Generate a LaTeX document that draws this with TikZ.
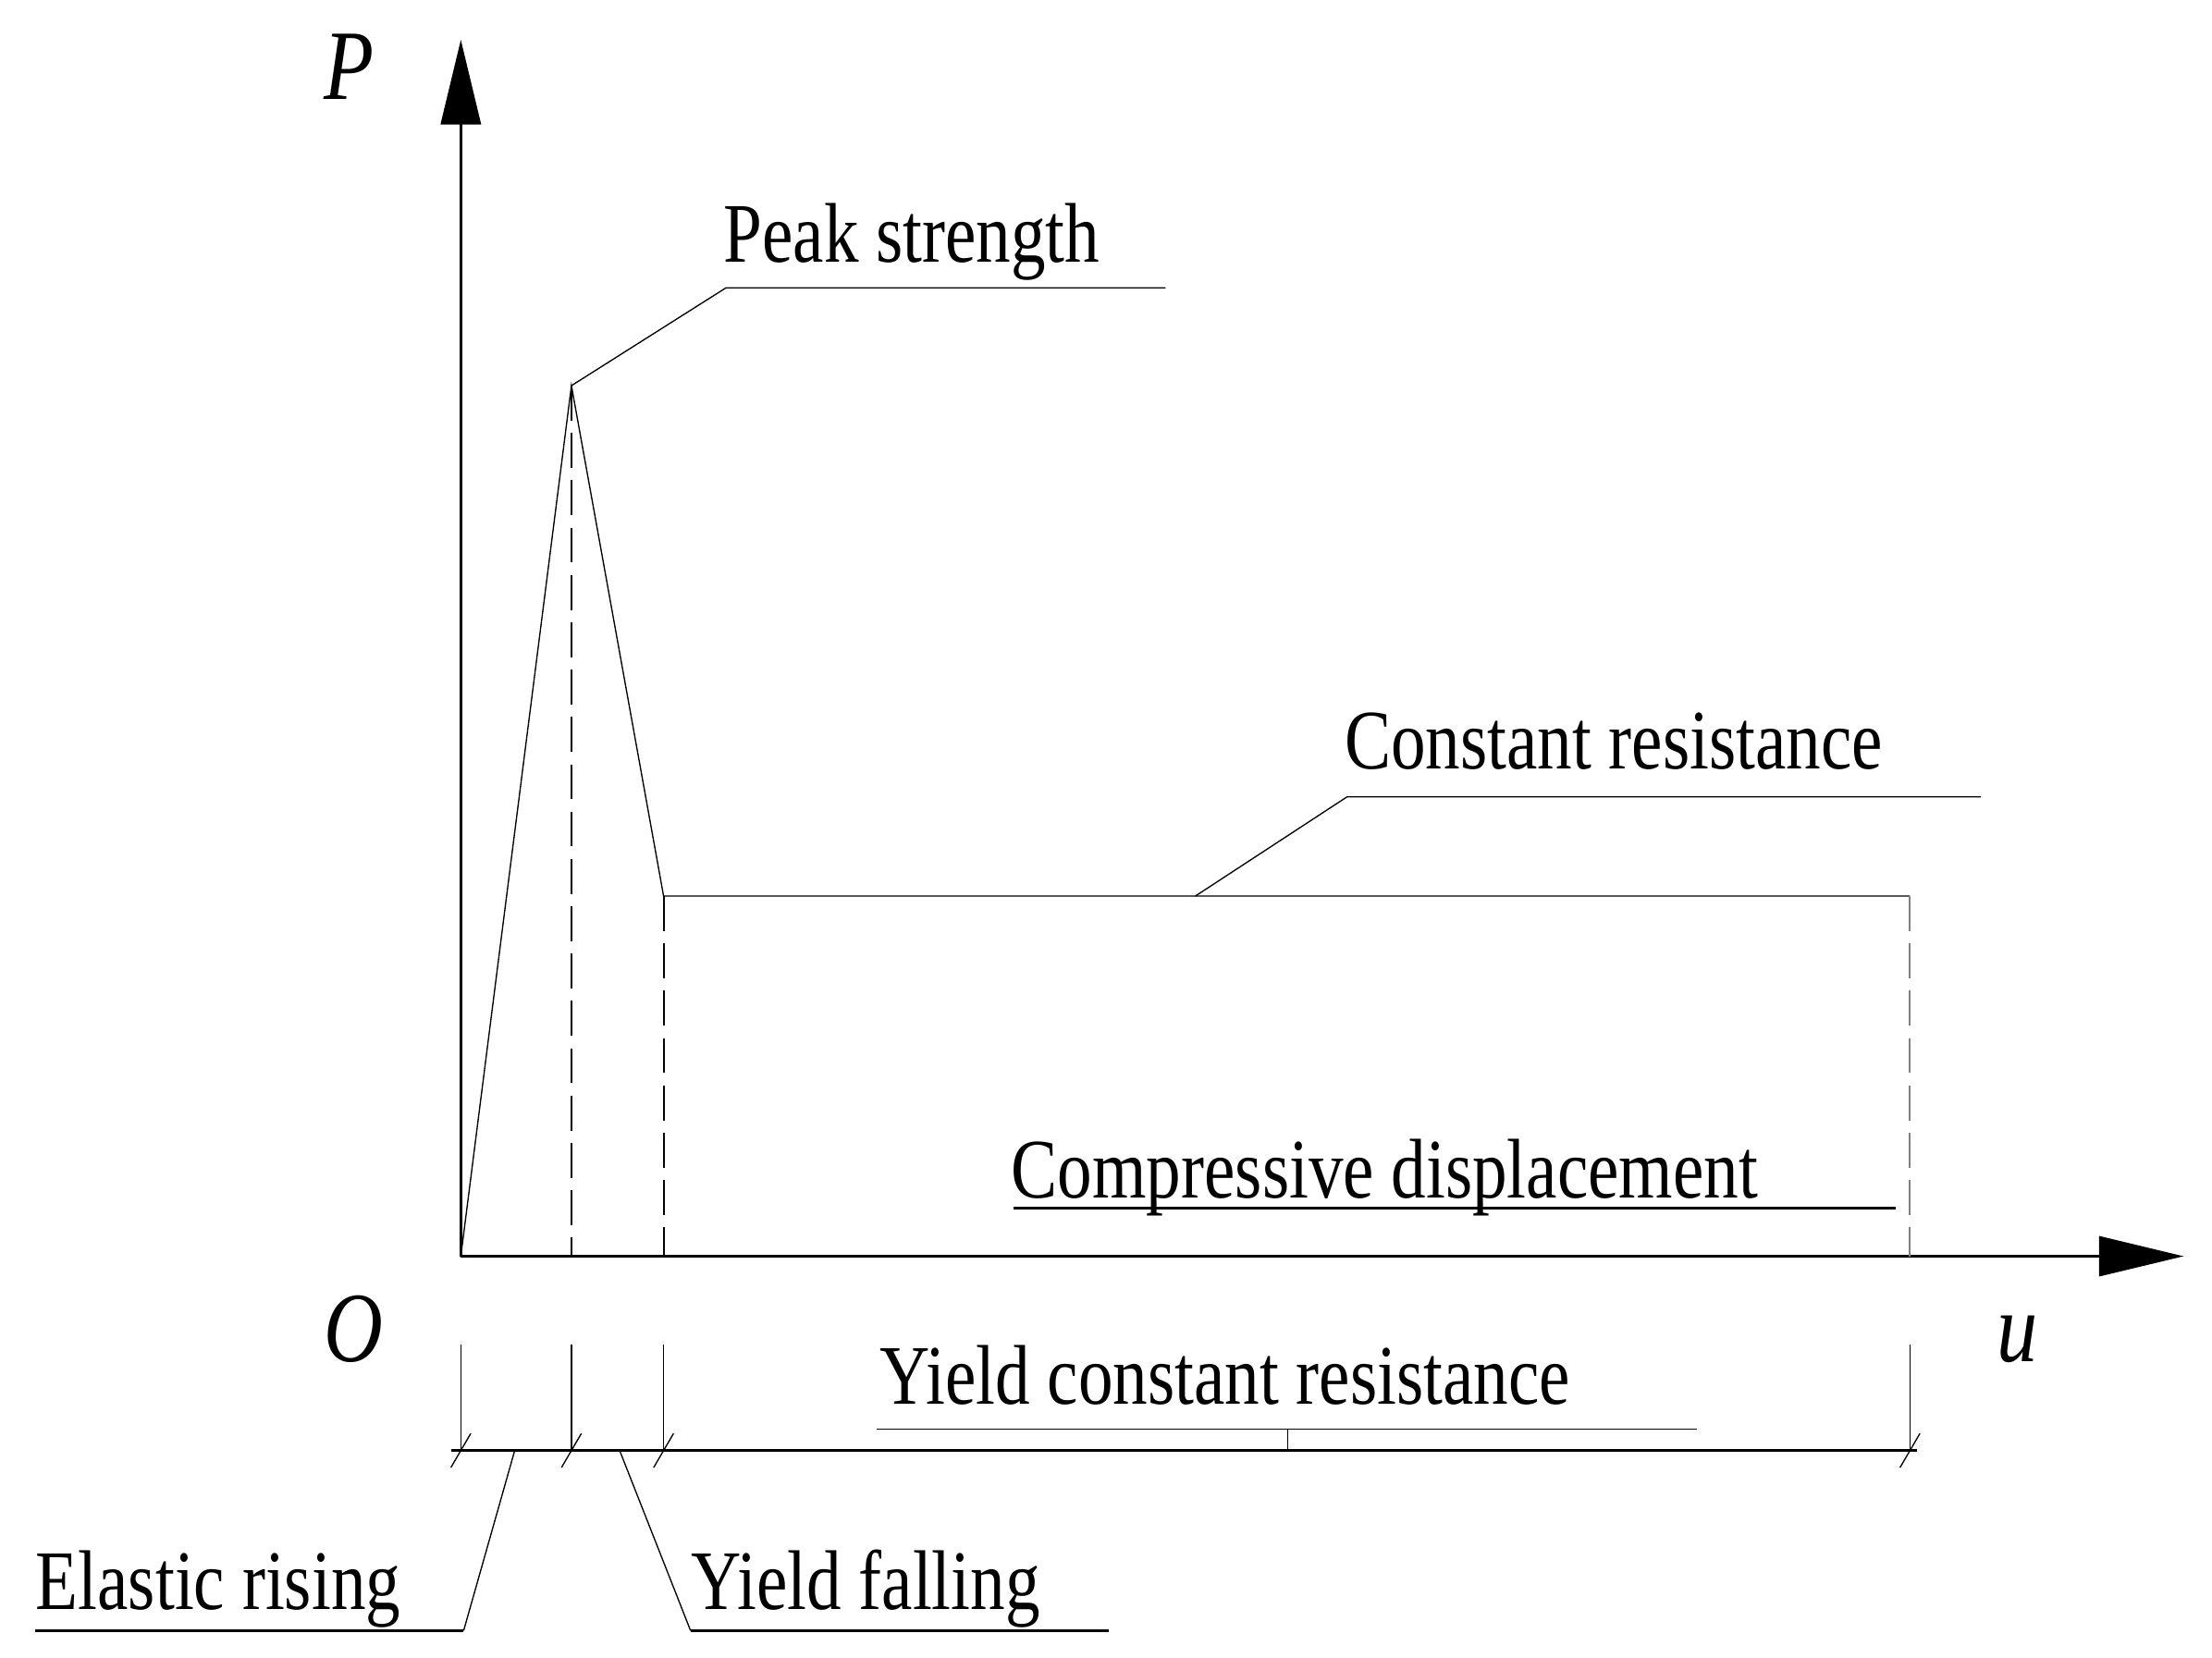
\documentclass[tikz,border=0pt]{standalone}
\usepackage{fontspec}
\setmainfont{Liberation Serif}[FakeStretch=0.82]
\usetikzlibrary{arrows.meta}
\begin{document}
\begin{tikzpicture}[x=0.02cm,y=-0.02cm,
  lbl/.style={anchor=base west,inner sep=0pt,font=\fontsize{34}{40}\selectfont},
  thin/.style={line width=0.5pt},
  med/.style={line width=1.2pt},
  dsh/.style={line width=0.7pt,dash pattern=on 14pt off 5pt}]
\useasboundingbox (0,0) rectangle (1560,1169);
\coordinate (O) at (325,886);
\coordinate (Ptop) at (325,28);
\coordinate (Uend) at (1540,886);
\coordinate (pk) at (403,272);
\coordinate (vl) at (468,632);
\coordinate (pe) at (1347,632);
\draw[med,-{Triangle[length=34pt,width=16pt]}] (O) -- (Ptop);
\draw[med,-{Triangle[length=34pt,width=16pt]}] (O) -- (Uend);
\draw[thin] (O) -- (pk) -- (vl) -- (pe);
\draw[dsh] (pk) -- (403,886);
\draw[dsh] (vl) -- (468,886);
\draw[dsh,gray] (pe) -- (1347,886);
\node[lbl,font=\fontsize{40}{40}\selectfont\itshape] (P) at (228,70) {P};
\node[lbl,font=\fontsize{40}{40}\selectfont\itshape] (Ol) at (228,960) {O};
\node[lbl,font=\fontsize{40}{40}\selectfont\itshape] (ul) at (1408,960) {u};
% peak
\node[lbl] (ps) at (510,185) {Peak strength};
\coordinate (psa) at (512,203); \coordinate (psb) at (822,203);
\draw[thin] (pk) -- (psa) -- (psb);
\node[lbl] (cr) at (948,542) {Constant resistance};
\coordinate (cra) at (950,562); \coordinate (crb) at (1397,562); \coordinate (crc) at (843,632);
\draw[thin] (crc) -- (cra) -- (crb);
\node[lbl] (cd) at (713,845) {Compressive displacement};
\coordinate (cda) at (715,852); \coordinate (cdb) at (1337,852);
\draw[med] (cda) -- (cdb);
% dimension
\foreach \x in {325,403,468,1347}{\draw[thin] (\x,948) -- (\x,1023); \draw[thin] (\x-7,1035) -- (\x+7,1011);}
\coordinate (da) at (318,1023); \coordinate (db) at (1352,1023);
\draw[med] (da) -- (db);
\node[lbl] (yc) at (620,990) {Yield constant resistance};
\coordinate (yca) at (618,1008); \coordinate (ycb) at (1197,1008); \coordinate (ycm) at (908,1008);
\draw[thin] (yca) -- (ycb); \draw[thin] (ycm) -- (908,1023);
\node[lbl] (er) at (25,1135) {Elastic rising};
\coordinate (era) at (25,1150); \coordinate (erb) at (327,1150);
\draw[med] (era) -- (erb); \draw[thin] (erb) -- (363,1023);
\node[lbl] (yf) at (487,1135) {Yield falling};
\coordinate (yfa) at (487,1150); \coordinate (yfb) at (782,1150);
\draw[med] (yfa) -- (yfb); \draw[thin] (yfa) -- (437,1023);
\end{tikzpicture}
\end{document}
